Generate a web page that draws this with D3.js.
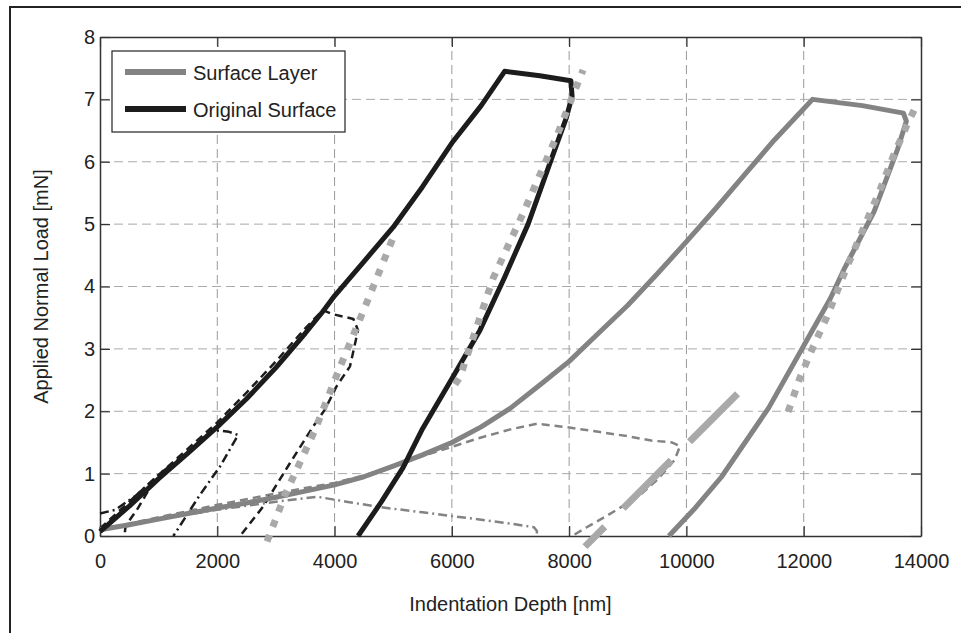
<!DOCTYPE html>
<html lang="en">
<head>
<meta charset="utf-8">
<title>Indentation load-depth curves</title>
<script src="https://cdn.jsdelivr.net/npm/d3@7"></script>
<style>
  html, body { margin: 0; padding: 0; background: #fff; }
  body { width: 961px; height: 633px; overflow: hidden; }
  svg text { font-family: "Liberation Sans", Arial, sans-serif; fill: #222; }
</style>
</head>
<body>
<div id="chart"></div>
<script>
// tick labels
var xTicks = [0, 2000, 4000, 6000, 8000, 10000, 12000, 14000];
var yTicks = [0, 1, 2, 3, 4, 5, 6, 7, 8];

// legend entries
var legendNames = ["Surface Layer", "Original Surface"];

// full cycles [depth nm, load mN]
var originalSurface = [[0,0.07],[500,0.48],[1000,0.92],[1500,1.33],[2000,1.75],[2500,2.2],[3000,2.7],
  [3500,3.25],[3800,3.6],[4000,3.85],[4500,4.4],[5000,4.95],[5500,5.6],[6000,6.3],[6500,6.9],[6900,7.45],
  [7500,7.38],[8030,7.3],[8050,7.05],[7950,6.7],[7700,6.05],[7300,5.0],[6900,4.15],[6480,3.3],[6000,2.52],
  [5500,1.72],[5170,1.1],[4800,0.55],[4400,0]];
var surfaceLayer = [[0,0.1],[500,0.18],[1000,0.27],[1500,0.36],[2000,0.45],[2500,0.53],[3000,0.62],
  [3500,0.72],[4000,0.82],[4500,0.95],[5000,1.12],[5500,1.3],[6000,1.5],[6500,1.75],[7000,2.05],
  [7500,2.42],[8000,2.8],[8500,3.25],[9000,3.7],[9500,4.2],[10000,4.72],[10500,5.25],[11000,5.8],
  [11500,6.35],[12000,6.85],[12150,7.0],[13000,6.9],[13700,6.78],[13750,6.65],[13600,6.2],
  [13200,5.2],[12700,4.3],[12450,3.8],[12000,3.05],[11400,2.05],[10600,0.95],[10150,0.45],[9700,0]];

// partial cycles, surface layer
var surfaceDashed = [[0,0.1],[1000,0.3],[2000,0.5],[3000,0.68],[3500,0.77],[4000,0.85],[4500,0.97],
  [5000,1.12],[5500,1.28],[6000,1.43],[6500,1.58],[7000,1.71],[7450,1.8],[8000,1.74],[8500,1.67],
  [9000,1.6],[9400,1.53],[9750,1.5],[9890,1.44],[9800,1.22],[9500,0.9],[9200,0.65],[8900,0.47],
  [8600,0.3],[8300,0.14],[8050,0]];
var surfaceDashDot = [[0,0.1],[1000,0.27],[2000,0.42],[3000,0.55],[3700,0.63],[4200,0.55],[4800,0.46],
  [5500,0.38],[6000,0.32],[6500,0.26],[7000,0.2],[7400,0.14],[7450,0.08],[7450,0]];

// partial cycles, original surface
var originalDashed = [[0,0.12],[500,0.55],[1000,0.98],[1500,1.4],[2000,1.82],[2500,2.3],[3000,2.8],
  [3500,3.33],[3800,3.62],[3955,3.56],[4320,3.48],[4400,3.3],[4263,2.72],[4035,2.4],[3837,2.03],
  [3638,1.76],[3240,1.17],[2780,0.47],[2390,0]];
var originalDashDot = [[0,0.36],[260,0.42],[600,0.64],[1000,0.98],[1500,1.36],[1930,1.7],[2200,1.67],
  [2355,1.62],[2050,1.12],[1705,0.66],[1250,0]];
var originalSmall = [[0,0.1],[400,0.42],[830,0.74],[650,0.45],[480,0.22],[430,0.12],[420,0]];

// fitted unloading curves
var fitDotted1 = [[2848,-0.09],[3155,0.66],[3666,1.7],[4093,2.71],[4553,3.75],[4997,4.78]];
var fitDotted2 = [[6054,2.43],[6139,2.55],[6702,4.13],[7213,5.17],[7793,6.42],[8237,7.47]];
var fitDotted3 = [[11733,1.99],[11937,2.54],[12159,3.03],[12414,3.55],[12739,4.32],[12960,4.8],
  [13301,5.55],[13523,6.08],[13762,6.59],[13898,6.86]];
var fitDashed = [[8270,-0.17],[10880,2.29]];

var W = 961, H = 633;
var margin = {left: 100, top: 37, right: 40, bottom: 97};
var iw = W - margin.left - margin.right;
var ih = H - margin.top - margin.bottom;

var svg = d3.select("#chart").append("svg")
  .attr("width", W).attr("height", H);

// outer figure frame (runs off the page on right and bottom)
svg.append("rect")
  .attr("x", 10).attr("y", 7).attr("width", 1000).attr("height", 700)
  .attr("fill", "none").attr("stroke", "#222").attr("stroke-width", 2);

var g = svg.append("g").attr("transform", "translate(" + margin.left + "," + margin.top + ")");

var x = d3.scaleLinear().domain([0, 14000]).range([0, iw]);
var y = d3.scaleLinear().domain([0, 8]).range([ih, 0]);

// grid
g.selectAll(".gx").data(xTicks.slice(1, -1)).enter().append("line")
  .attr("x1", d => x(d)).attr("x2", d => x(d)).attr("y1", 0).attr("y2", ih)
  .attr("stroke", "#999").attr("stroke-dasharray", "9,5");
g.selectAll(".gy").data(yTicks.slice(1, -1)).enter().append("line")
  .attr("y1", d => y(d)).attr("y2", d => y(d)).attr("x1", 0).attr("x2", iw)
  .attr("stroke", "#aaa").attr("stroke-dasharray", "9,5");

// axes
var fmt = d3.format("d");
var xAxis = g.append("g").attr("transform", "translate(0," + ih + ")")
  .call(d3.axisBottom(x).tickValues(xTicks).tickFormat(fmt).tickSizeInner(-10).tickSizeOuter(0).tickPadding(18));
var xTop = g.append("g")
  .call(d3.axisTop(x).tickValues(xTicks).tickFormat("").tickSizeInner(-10).tickSizeOuter(0));
var yAxis = g.append("g")
  .call(d3.axisLeft(y).tickValues(yTicks).tickFormat(fmt).tickSizeInner(-10).tickSizeOuter(0).tickPadding(5));
var yRight = g.append("g").attr("transform", "translate(" + iw + ",0)")
  .call(d3.axisRight(y).tickValues(yTicks).tickFormat("").tickSizeInner(-10).tickSizeOuter(0));
[xAxis, xTop, yAxis, yRight].forEach(function(a) {
  a.select(".domain").attr("stroke", "#333").attr("stroke-width", 1.5);
  a.selectAll(".tick line").attr("stroke", "#333").attr("stroke-width", 1.2);
  a.selectAll("text").attr("font-size", "20px").attr("fill", "#222")
    .attr("font-family", "'Liberation Sans', Arial, sans-serif");
});

// axis titles
svg.append("text").attr("x", margin.left + iw / 2).attr("y", 611)
  .attr("text-anchor", "middle").attr("font-size", "20px").text("Indentation Depth [nm]");
svg.append("text")
  .attr("transform", "translate(48," + (margin.top + ih / 2) + ") rotate(-90)")
  .attr("text-anchor", "middle").attr("font-size", "20px").text("Applied Normal Load [mN]");

var line = d3.line().x(d => x(d[0])).y(d => y(d[1]));

function draw(data, color, width, dash) {
  g.append("path").datum(data).attr("d", line)
    .attr("fill", "none").attr("stroke", color).attr("stroke-width", width)
    .attr("stroke-linejoin", "round").attr("stroke-dasharray", dash || null);
}

var black = "#1c1c1c", gray = "#838383", light = "#a9a9a9";

draw(surfaceDashDot, gray, 2.5, "9,4,2,4");
draw(surfaceDashed, gray, 2.5, "8,5");
draw(originalSmall, black, 2.5, "8,5");
draw(originalDashDot, black, 2.5, "9,4,2,4");
draw(originalDashed, black, 2.5, "8,5");
draw(surfaceLayer, gray, 5);
draw(originalSurface, black, 5);
draw(fitDotted1, light, 7, "7,9");
draw(fitDotted2, light, 7, "7,9");
draw(fitDotted3, light, 7, "7,9");
g.append("path").datum(fitDashed).attr("d", line)
  .attr("fill", "none").attr("stroke", light).attr("stroke-width", 7)
  .attr("stroke-dasharray", "68,26").attr("stroke-dashoffset", 40);

// legend
var lg = svg.append("g");
lg.append("rect").attr("x", 112).attr("y", 51).attr("width", 233).attr("height", 81)
  .attr("fill", "#fff").attr("stroke", "#222").attr("stroke-width", 1.2);
var lgColors = [gray, black];
legendNames.forEach(function(name, i) {
  var yy = 72 + i * 37;
  lg.append("line").attr("x1", 125).attr("x2", 186).attr("y1", yy).attr("y2", yy)
    .attr("stroke", lgColors[i]).attr("stroke-width", 6);
  lg.append("text").attr("x", 193).attr("y", yy + 8).attr("font-size", "20px").text(name);
});
</script>
</body>
</html>
